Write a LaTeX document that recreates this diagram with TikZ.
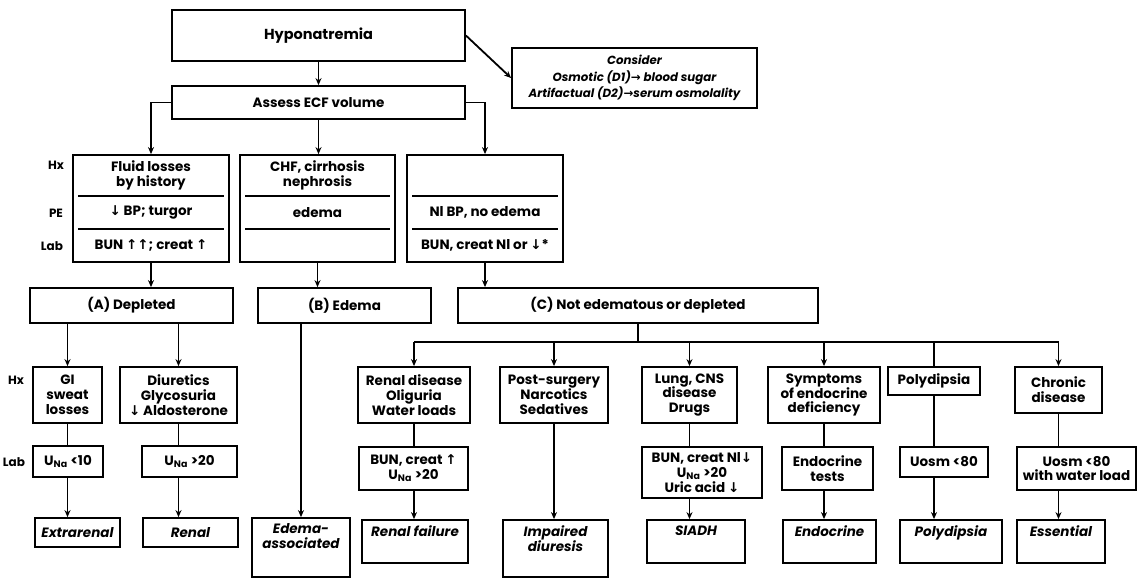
\documentclass[tikz,border=0pt]{standalone}
\usepackage{fontspec}
\setmainfont{Poppins}
\newfontfamily\symf{DejaVu Sans}
\usetikzlibrary{arrows.meta,calc}
\newcommand{\ad}{{\symf\char"2193}}
\newcommand{\au}{{\symf\char"2191}}
\newcommand{\rarr}{{\symf\char"2192}}
\newcommand{\una}{U\textsubscript{Na}}
\newcommand{\bx}[7][]{\node[box,#1,minimum width={#5-#3},minimum height={#6-#4}] (#2) at ({(#3+#5)/2},{(#4+#6)/2}) {#7};}
\begin{document}
\begin{tikzpicture}[x=1pt,y=-1pt,
  fn/.style={font=\fontsize{13.5}{14.8}\selectfont\bfseries},
  itf/.style={font=\fontsize{13.5}{14.8}\selectfont\bfseries\itshape},
  box/.style={draw,line width=1.8pt,inner sep=1pt,align=center,fn},
  ln/.style={line width=1.8pt},
  arr/.style={ln,-{Stealth[length=7pt,width=6pt]}},
  lbl/.style={font=\fontsize{12}{13}\selectfont\bfseries},
  dv/.style={line width=1.6pt}]
\useasboundingbox (0,0) rectangle (1138,578);
% top
\bx[font=\fontsize{14.5}{16}\selectfont\bfseries]{hyp}{172}{10}{465}{61}{Hyponatremia}
\bx{ass}{172}{86}{465}{119}{Assess ECF volume}
\bx[font=\fontsize{11.8}{16.5}\selectfont\bfseries\itshape]{con}{512}{48}{757}{108}{Consider\\Osmotic (D1)\rarr{} blood sugar\\Artifactual (D2)\rarr{}serum osmolality}
% row 1
\bx{fl}{73}{155}{229}{262}{}
\bx{cf}{240}{155}{395}{262}{}
\bx{nl}{407}{155}{563}{262}{}
\foreach \b in {fl,cf,nl}{
  \draw[dv] ($(\b.north west)+(6,42)$) -- ($(\b.north east)+(-6,42)$);
  \draw[dv] ($(\b.north west)+(6,75)$) -- ($(\b.north east)+(-6,75)$);}
\node[fn,align=center] (flhx) at ($(fl.north)+(0,21)$) {Fluid losses\\by history};
\node[fn] (flpe) at ($(fl.north)+(0,58)$) {\ad{} BP; turgor};
\node[fn] (fllab) at ($(fl.north)+(0,91)$) {BUN \au\au; creat \au};
\node[fn,align=center] (cfhx) at ($(cf.north)+(0,21)$) {CHF, cirrhosis\\nephrosis};
\node[fn] (cfpe) at ($(cf.north)+(0,58)$) {edema};
\node[fn] (nlpe) at ($(nl.north)+(0,58)$) {Nl BP, no edema};
\node[fn] (nllab) at ($(nl.north)+(0,91)$) {BUN, creat Nl or \ad*};
\node[lbl] (hx1) at (56,165) {Hx};
\node[lbl] (pe1) at (56,213) {PE};
\node[lbl] (lab1) at (52,246) {Lab};
% row 2
\bx{A}{30}{288}{233}{323}{(A) Depleted}
\bx{B}{258}{288}{431}{323}{(B) Edema}
\bx{C}{458}{288}{818}{323}{(C) Not edematous or depleted}
% A branch
\bx{gi}{33}{367}{102}{423}{GI\\sweat\\losses}
\bx{diu}{120}{367}{237}{423}{Diuretics\\Glycosuria\\\ad{} Aldosterone}
\bx{u1}{33}{446}{103}{477}{\una{} <10}
\bx{u2}{142}{446}{237}{477}{\una{} >20}
\bx[itf]{ext}{35}{518}{120}{547}{Extrarenal}
\bx[itf]{ren}{143}{518}{238}{547}{Renal}
\bx{eda}{252}{518}{350}{577}{}
\node[itf,align=center,anchor=north] (edat) at ($(eda.north)+(0,3)$) {Edema-\\associated};
\node[lbl] (hx2) at (16,380) {Hx};
\node[lbl] (lab2) at (14,462) {Lab};
% C branch
\bx{rd}{358}{367}{470}{423}{Renal disease\\Oliguria\\Water loads}
\bx{ps}{500}{367}{608}{423}{Post-surgery\\Narcotics\\Sedatives}
\bx{lu}{642}{367}{737}{423}{Lung, CNS\\disease\\Drugs}
\bx{sy}{768}{367}{880}{423}{Symptoms\\of endocrine\\deficiency}
\bx{po}{888}{367}{980}{395}{Polydipsia}
\bx{ch}{1015}{367}{1102}{413}{Chronic\\disease}
\bx{rdl}{359}{447}{468}{490}{BUN, creat \au\\\una{} >20}
\bx{lul}{642}{447}{762}{498}{BUN, creat Nl\ad\\\una{} >20\\Uric acid \ad}
\bx{syl}{782}{447}{873}{490}{Endocrine\\tests}
\bx{pol}{900}{447}{988}{477}{Uosm <80}
\bx{chl}{1017}{447}{1136}{490}{Uosm <80\\with water load}
\bx{rf}{362}{520}{468}{563}{}
\bx{id}{503}{520}{608}{577}{}
\bx{si}{647}{520}{745}{563}{}
\bx{en}{783}{520}{876}{563}{}
\bx{pd}{900}{520}{1002}{563}{}
\bx{es}{1017}{520}{1105}{563}{}
\node[itf,anchor=north] (rft) at ($(rf.north)+(0,3)$) {Renal failure};
\node[itf,align=center,anchor=north] (idt) at ($(id.north)+(0,3)$) {Impaired\\diuresis};
\node[itf,anchor=north] (sit) at ($(si.north)+(0,3)$) {SIADH};
\node[itf,anchor=north] (ent) at ($(en.north)+(0,3)$) {Endocrine};
\node[itf,anchor=north] (pdt) at ($(pd.north)+(0,3)$) {Polydipsia};
\node[itf,anchor=north] (est) at ($(es.north)+(0,3)$) {Essential};
% connectors top
\draw[arr] (hyp) -- (ass);
\draw[arr] (hyp.east) -- (con.west);
\draw[arr] (ass.west) -| (fl.north);
\draw[arr] (ass.south) -- (ass.south |- cf.north);
\draw[arr] (ass.east) -| (nl.north);
\draw[arr] (fl.south) -- (fl.south |- A.north);
\draw[arr] (cf.south) -- (cf.south |- B.north);
\draw[arr] (nl.south) -- (nl.south |- C.north);
% A branch
\draw[arr] (A.south -| gi.north) -- (gi.north);
\draw[arr] (A.south -| diu.north) -- (diu.north);
\draw[ln] (gi.south) -- (gi.south |- u1.north);
\draw[arr] (gi.south |- u1.south) -- (gi.south |- ext.north);
\draw[ln] (diu.south) -- (diu.south |- u2.north);
\draw[arr] (diu.south |- u2.south) -- (diu.south |- ren.north);
\draw[arr] (eda.north |- B.south) -- (eda.north);
% C bus
\coordinate (bus) at (640,342);
\draw[ln] (C.south) -- (C.south |- bus);
\draw[ln] (rd.north |- bus) -- (ch.north |- bus);
\foreach \b in {rd,ps,lu,sy,ch}{\draw[arr] (\b.north |- bus) -- (\b.north);}
\draw[ln] (po.north |- bus) -- (po.north);
\draw[ln] (rd.south) -- (rd.south |- rdl.north);
\draw[arr] (rd.south |- rdl.south) -- (rd.south |- rf.north);
\draw[arr] (ps.south) -- (ps.south |- id.north);
\draw[ln] (lu.south) -- (lu.south |- lul.north);
\draw[arr] (lu.south |- lul.south) -- (lu.south |- si.north);
\draw[ln] (sy.south) -- (sy.south |- syl.north);
\draw[arr] (sy.south |- syl.south) -- (sy.south |- en.north);
\draw[ln] (po.south) -- (po.south |- pol.north);
\draw[arr] (po.south |- pol.south) -- (po.south |- pd.north);
\draw[ln] (ch.south) -- (ch.south |- chl.north);
\draw[arr] (ch.south |- chl.south) -- (ch.south |- es.north);
\end{tikzpicture}
\end{document}
